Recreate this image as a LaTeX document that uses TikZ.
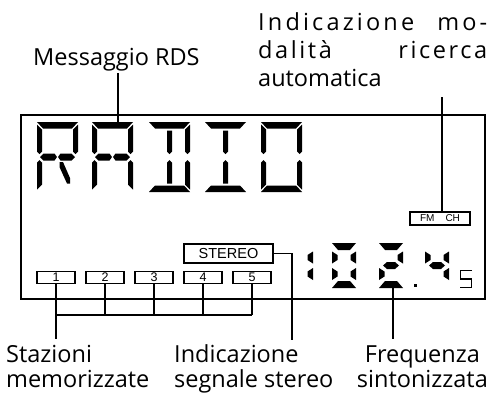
\documentclass[tikz,border=0pt]{standalone}
\usepackage{fontspec}
\setmainfont{Open Sans}
\newfontfamily\lcdfont{Liberation Sans}
\newfontfamily\spacedfont[LetterSpace=11]{Open Sans}
\newfontfamily\widefont[LetterSpace=13.5]{Open Sans}
% 14-segment pieces (cell 41 x 70, y downwards)
\newcommand{\sgA}{\fill (0,0)--(41,0)--(35,6.5)--(6,6.5)--cycle;}
\newcommand{\sgD}{\fill (6,63.5)--(35,63.5)--(41,70)--(0,70)--cycle;}
\newcommand{\sgF}{\fill (0,2.5)--(5,7.5)--(5,29.5)--(2.5,32)--(0,29.5)--cycle;}
\newcommand{\sgE}{\fill (0,40.5)--(2.5,38)--(5,40.5)--(5,62.5)--(0,67.5)--cycle;}
\newcommand{\sgB}{\fill (41,2.5)--(36,7.5)--(36,29.5)--(38.5,32)--(41,29.5)--cycle;}
\newcommand{\sgC}{\fill (41,40.5)--(38.5,38)--(36,40.5)--(36,62.5)--(41,67.5)--cycle;}
\newcommand{\sgGl}{\fill (3,35)--(6.5,31.5)--(17.5,31.5)--(20,35)--(17.5,38.5)--(6.5,38.5)--cycle;}
\newcommand{\sgGr}{\fill (38,35)--(34.5,31.5)--(23.5,31.5)--(21,35)--(23.5,38.5)--(34.5,38.5)--cycle;}
\newcommand{\sgHu}{\fill (18,8.5)--(23,8.5)--(23,29.5)--(20.5,32)--(18,29.5)--cycle;}
\newcommand{\sgHd}{\fill (18,40.5)--(20.5,38)--(23,40.5)--(23,61.5)--(18,61.5)--cycle;}
\newcommand{\sgK}{\fill (22.5,40)--(26,40)--(33,56)--(33,61.5)--(30,61.5)--(22.5,45)--cycle;}
% 7-segment pieces (cell 24 x 45)
\newcommand{\dgA}{\fill (0,0)--(24,0)--(18,7)--(6,7)--cycle;}
\newcommand{\dgD}{\fill (6,38)--(18,38)--(24,45)--(0,45)--cycle;}
\newcommand{\dgF}{\fill (0,8.5)--(5.5,12)--(5.5,17)--(0,20.5)--cycle;}
\newcommand{\dgE}{\fill (0,25)--(5.5,28.5)--(5.5,33.5)--(0,37)--cycle;}
\newcommand{\dgB}{\fill (24,8.5)--(18.5,12)--(18.5,17)--(24,20.5)--cycle;}
\newcommand{\dgC}{\fill (24,25)--(18.5,28.5)--(18.5,33.5)--(24,37)--cycle;}
\newcommand{\dgG}{\fill (4,22.5)--(8,19)--(16,19)--(20,22.5)--(16,26)--(8,26)--cycle;}
\begin{document}
\begin{tikzpicture}[x=1pt,y=-1pt,
  lbl/.style={font=\fontsize{23.5}{28}\selectfont, inner sep=0pt},
  slbl/.style={font=\spacedfont\fontsize{23.5}{28}\selectfont, inner sep=0pt},
  wlbl/.style={font=\widefont\fontsize{23.5}{28}\selectfont, inner sep=0pt},
  lead/.style={line width=1.6pt},
  keybox/.style={draw, line width=1.3pt, minimum width=38pt, minimum height=11.5pt,
    inner sep=0pt, font=\lcdfont\fontsize{12.5}{12.5}\selectfont},
  lcdbox/.style={draw, line width=1.3pt, inner sep=0pt}]
\useasboundingbox (0,0) rectangle (492,394);
% frame
\node[draw, line width=2pt, minimum width=464pt, minimum height=184pt, inner sep=0pt,
  anchor=north west] (frame) at (20,114) {};
% RADIO
\begin{scope}[shift={(37,122)}]\sgA\sgB\sgF\sgE\sgGl\sgGr\sgK\end{scope}
\begin{scope}[shift={(92,122)}]\sgA\sgB\sgC\sgE\sgF\sgGl\sgGr\end{scope}
\begin{scope}[shift={(149,122)}]\sgA\sgB\sgC\sgD\sgHu\sgHd\end{scope}
\begin{scope}[shift={(205,122)}]\sgA\sgD\sgHu\sgHd\end{scope}
\begin{scope}[shift={(261,122)}]\sgA\sgB\sgC\sgD\sgE\sgF\end{scope}
% frequency 102.4 5
\begin{scope}[shift={(289,243)}]\dgB\dgC\end{scope}
\begin{scope}[shift={(332,243)}]\dgA\dgB\dgC\dgD\dgE\dgF\end{scope}
\begin{scope}[shift={(379,243)}]\dgA\dgB\dgG\dgE\dgD\end{scope}
\fill (413.5,283.5) rectangle (416.5,286.5);
\begin{scope}[shift={(425,243)}]\dgF\dgB\dgG\dgC\end{scope}
\draw[line width=1.1pt] (472,270.5) -- (460.5,270.5) -- (460.5,279) -- (471.5,279)
  -- (471.5,287.5) -- (460,287.5);
% indicator boxes
\node[lcdbox, minimum width=60pt, minimum height=13pt,
  font=\lcdfont\fontsize{10}{10}\selectfont] (fmch) at (440,218.5) {FM\hspace{1.1em}CH};
\node[lcdbox, minimum width=89pt, minimum height=19pt,
  font=\lcdfont\fontsize{14.5}{14.5}\selectfont] (stereo) at (228.5,253.5) {STEREO};
\foreach \i/\x in {1/56,2/105,3/154,4/203,5/252}
  \node[keybox] (p\i) at (\x,277.5) {\i};
% labels
\node[lbl, anchor=base west] (rds) at (33,65) {Messaggio RDS};
\node[wlbl, anchor=base west] (ind1) at (258,30)
  {\makebox[229pt][s]{Indicazione mo-}};
\node[slbl, anchor=base west] (ind2) at (258,58)
  {\makebox[229pt][s]{dalità ricerca}};
\node[lbl, anchor=base west] (ind3) at (258,86) {automatica};
\node[lbl, anchor=base west] (staz1) at (6,362) {Stazioni};
\node[lbl, anchor=base west] (staz2) at (6,387) {memorizzate};
\node[lbl, anchor=base west] (seg1) at (174,362) {Indicazione};
\node[lbl, anchor=base west] (seg2) at (174,387) {segnale stereo};
\node[lbl, anchor=base east] (freq2) at (488,387) {sintonizzata};
\node[lbl, anchor=base] (freq1) at (freq2.base |- 0,362) {Frequenza};
% connectors
\coordinate (rdstop) at (118,73);
\coordinate (rdsend) at (118,122);
\draw[lead] (rdstop) -- (rdsend);
\coordinate (autotop) at (442,97);
\draw[lead] (autotop) -- (autotop |- fmch.north);
\coordinate (stereoend) at (292,340);
\draw[lead] (stereo.east) -| (stereoend);
\coordinate (bus) at (0,315);
\foreach \i in {1,...,5}
  \draw[lead] (p\i.south) -- (p\i.south |- bus);
\draw[lead] (p1.south |- bus) -- (p5.south |- bus);
\coordinate (stazend) at (56,339);
\draw[lead] (p1.south |- bus) -- (stazend);
\coordinate (freqtop) at (393,288);
\coordinate (freqend) at (393,339);
\draw[lead] (freqtop) -- (freqend);
\end{tikzpicture}
\end{document}
